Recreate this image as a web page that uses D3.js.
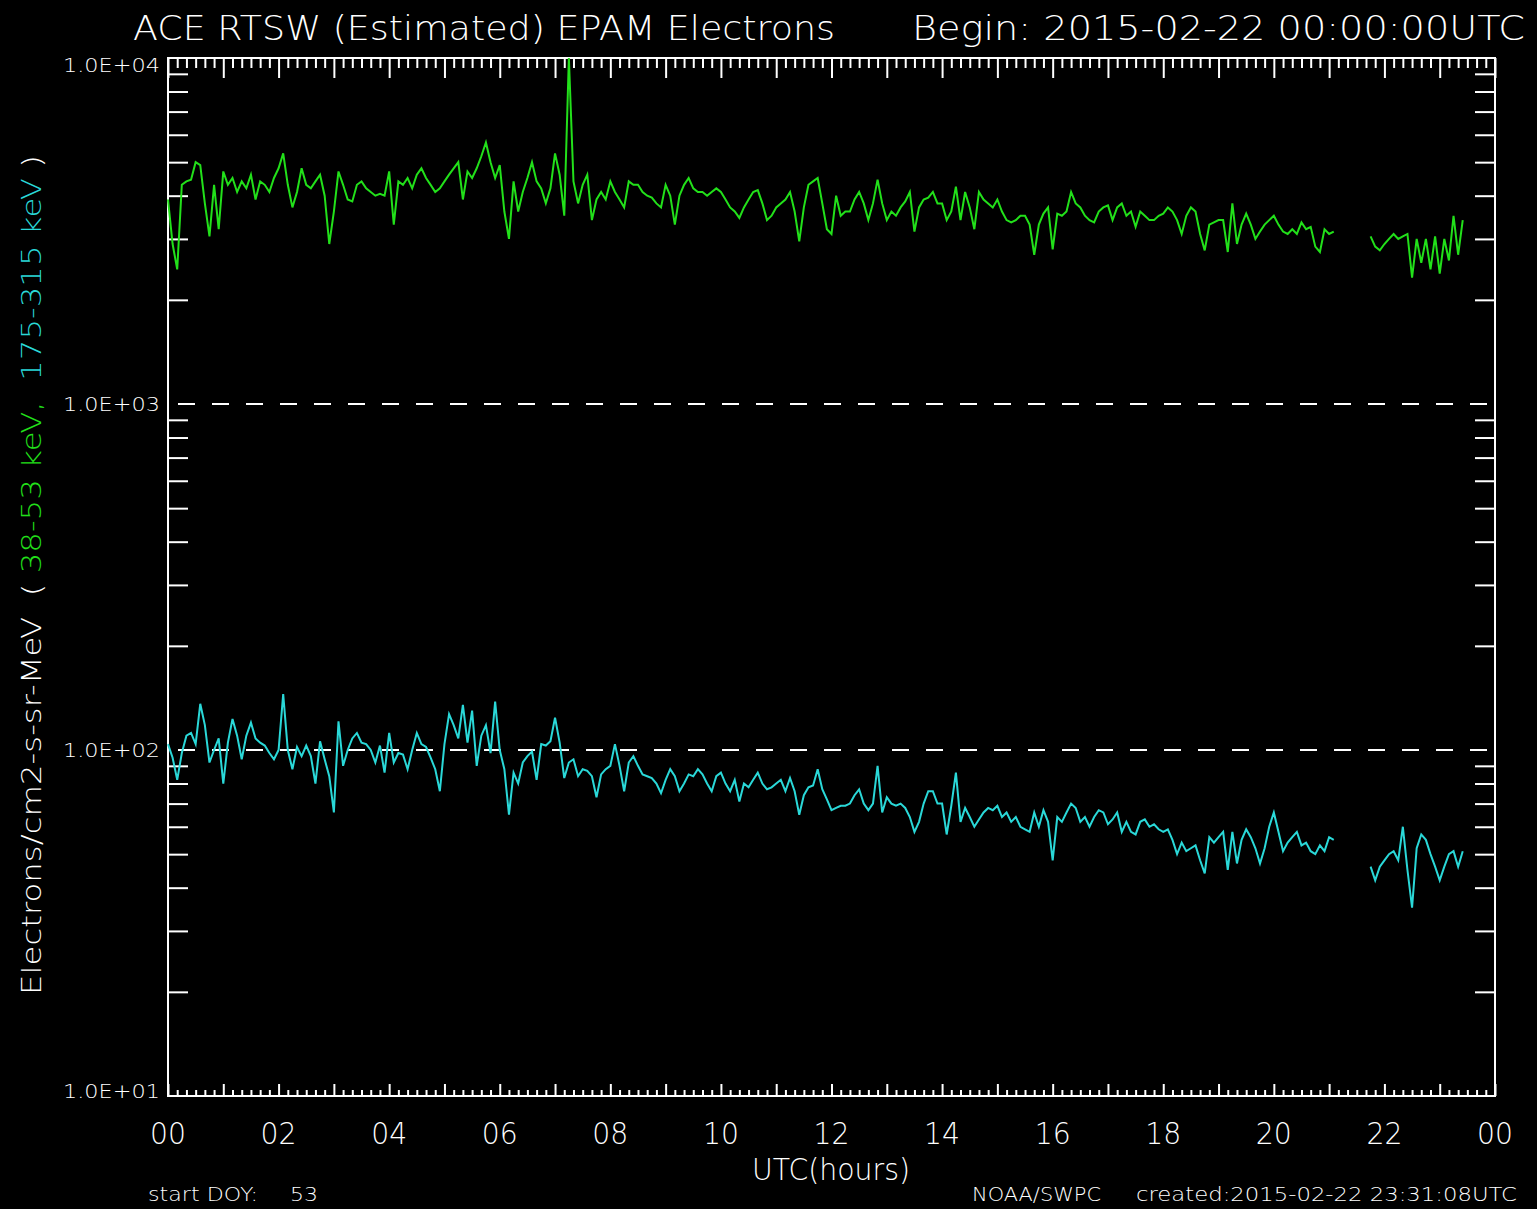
<!DOCTYPE html>
<html>
<head>
<meta charset="utf-8">
<script src="https://cdn.jsdelivr.net/npm/d3@7"></script>
<style>
  body { margin: 0; background: #000; }
  svg { display: block; }
  text { font-family: "DejaVu Sans", sans-serif; font-weight: 200; fill: #fff; white-space: pre; }
</style>
</head>
<body>
<svg id="chart" width="1537" height="1209"></svg>
<script>
// 5 minute samples from 00:00 UTC, null = no data
var stepMinutes = 5;

var green = [
  3900,2900,2450,4300,4400,4450,5000,4900,3800,3050,4300,3200,4700,4300,4500,4100,4400,4200,4600,3900,4400,4300,4100,4500,
  4800,5300,4300,3700,4100,4800,4300,4200,4400,4600,4000,2900,3600,4700,4300,3900,3850,4300,4400,4200,4100,4000,4050,4000,
  4700,3300,4400,4300,4500,4200,4600,4800,4500,4300,4100,4200,4400,4600,4800,5000,3900,4700,4500,4800,5200,5700,5000,4500,
  4900,3600,3000,4400,3600,4100,4500,5000,4400,4200,3800,4200,5300,4600,3500,10000,4400,3800,4300,4600,3400,3900,4100,3900,
  4400,4100,3900,3700,4400,4300,4300,4100,4000,3950,3800,3700,4300,4000,3300,4000,4300,4500,4200,4100,4100,4000,4100,4200,
  4100,3900,3700,3600,3450,3700,3900,4100,4150,3800,3400,3500,3700,3800,3900,4100,3600,2950,3700,4300,4400,4500,3800,3200,
  3100,4000,3500,3600,3600,3900,4100,3800,3400,3800,4450,3800,3400,3600,3500,3700,3850,4100,3150,3700,3900,3950,4100,3800,
  3800,3400,3600,4250,3400,4100,3700,3200,4100,3900,3800,3700,3900,3600,3400,3350,3400,3500,3500,3300,2700,3300,3550,3700,
  2800,3550,3500,3600,4100,3800,3700,3500,3400,3350,3600,3700,3750,3400,3700,3800,3500,3600,3250,3600,3500,3400,3400,3500,3550,3700,
  3600,3400,3100,3500,3700,3600,3100,2780,3300,3350,3400,3400,2750,3800,2900,3300,3550,3300,3000,3150,3300,3400,3500,3300,3150,3100,3200,3100,3350,3200,3250,2850,2750,3200,3100,3150,
  null,null,null,null,null,null,null,
  3050,2850,2780,2900,3000,3100,3000,3050,3100,2320,3000,2560,3000,2450,3050,2380,3000,2600,3500,2700,3400
];

var cyan = [
  104,95,82,98,110,112,104,136,118,92,100,108,80,105,123,110,94,110,120,108,105,103,98,94,
  100,145,100,88,102,96,103,96,80,106,94,84,66,121,90,100,108,112,105,104,100,92,103,86,
  112,92,98,97,88,100,112,104,102,95,88,76,104,127,118,108,135,105,130,90,110,118,98,138,
  100,88,65,86,80,92,96,99,82,104,103,106,124,105,83,92,94,84,88,87,84,73,85,88,
  90,104,90,76,92,96,90,85,84,83,80,75,82,88,84,76,80,85,84,88,85,80,76,84,
  86,80,76,82,71,80,78,82,86,80,77,78,80,82,76,83,76,65,74,78,79,88,77,72,
  67,68,69,69,70,74,77,70,67,70,90,66,73,70,69,70,68,64,58,62,70,76,76,70,
  70,57,69,86,62,68,64,60,63,66,68,67,69,64,66,62,64,60,59,58,66,60,67,62,
  48,64,62,66,70,68,62,64,60,64,67,66,61,63,66,58,62,58,57,62,63,60,61,59,58,59,
  55,50,54,51,52,53,48,44,56,54,56,58,45,58,47,55,59,56,52,47,52,60,66,58,51,54,56,58,53,54,51,50,53,51,56,55,
  null,null,null,null,null,null,null,
  46,42,46,48,50,51,48,60,45,35,52,57,55,50,46,42,46,50,51,46,51
];

var decades = [10, 100, 1000, 10000];
var decadeLabels = ["1.0E+01", "1.0E+02", "1.0E+03", "1.0E+04"];
var gridDecades = [100, 1000];
var hourLabels = ["00","02","04","06","08","10","12","14","16","18","20","22","00"];

var svg = d3.select("#chart");
var W = 1537, H = 1209;
var pLeft = 168, pRight = 1495, pTop = 58, pBottom = 1096;

svg.append("rect").attr("width", W).attr("height", H).attr("fill", "#000");

var x = d3.scaleLinear().domain([0, 24]).range([pLeft, pRight]);
var y = d3.scaleLog().domain([10, 10000]).range([pBottom, pTop]);

// minor log ticks 2..9 per decade
var minorY = [];
decades.slice(0, 3).forEach(function (d) {
    for (var k = 2; k <= 9; k++) minorY.push(d * k);
});
var hourTicks = d3.range(0, 25, 1);
var minorX = d3.range(0, 24 * 6 + 1).map(function (m) { return m / 6; })
    .filter(function (h) { return Math.abs(h - Math.round(h)) > 1e-6; });

function styleAxis(g) {
    g.select(".domain").remove();
    g.selectAll("line").attr("stroke", "#fff").attr("stroke-width", 2);
}

// left / right minor ticks
svg.append("g").attr("transform", "translate(" + pLeft + ",0)")
    .call(d3.axisLeft(y).tickValues(minorY).tickSize(-20).tickFormat(""))
    .call(styleAxis);
svg.append("g").attr("transform", "translate(" + pRight + ",0)")
    .call(d3.axisRight(y).tickValues(minorY).tickSize(-20).tickFormat(""))
    .call(styleAxis);

// top ticks
svg.append("g").attr("transform", "translate(0," + pTop + ")")
    .call(d3.axisTop(x).tickValues(minorX).tickSize(-10).tickFormat(""))
    .call(styleAxis);
svg.append("g").attr("transform", "translate(0," + pTop + ")")
    .call(d3.axisTop(x).tickValues(hourTicks).tickSize(-20).tickFormat(""))
    .call(styleAxis);
// bottom ticks
svg.append("g").attr("transform", "translate(0," + pBottom + ")")
    .call(d3.axisBottom(x).tickValues(minorX).tickSize(-6).tickFormat(""))
    .call(styleAxis);
svg.append("g").attr("transform", "translate(0," + pBottom + ")")
    .call(d3.axisBottom(x).tickValues(hourTicks).tickSize(-12).tickFormat(""))
    .call(styleAxis);

// dashed major grid
svg.selectAll(".grid").data(gridDecades).enter().append("line")
    .attr("x1", pLeft).attr("x2", pRight)
    .attr("y1", function (d) { return y(d); }).attr("y2", function (d) { return y(d); })
    .attr("stroke", "#fff").attr("stroke-width", 2).attr("stroke-dasharray", "17,17")
    .attr("stroke-dashoffset", -10);

// frame
svg.append("rect").attr("x", pLeft).attr("y", pTop)
    .attr("width", pRight - pLeft).attr("height", pBottom - pTop)
    .attr("fill", "none").attr("stroke", "#fff").attr("stroke-width", 2);

// data lines
var line = d3.line()
    .defined(function (d) { return d != null; })
    .x(function (d, i) { return x(i * stepMinutes / 60); })
    .y(function (d) { return y(d); });

svg.append("path").datum(green).attr("d", line)
    .attr("fill", "none").attr("stroke", "#22e01a").attr("stroke-width", 2);
svg.append("path").datum(cyan).attr("d", line)
    .attr("fill", "none").attr("stroke", "#2ad8d8").attr("stroke-width", 2);

// y labels
svg.selectAll(".ylab").data(decades).enter().append("text")
    .attr("x", 160)
    .attr("y", function (d) { return Math.min(Math.max(y(d), 65), 1091); })
    .attr("dy", "0.36em")
    .attr("text-anchor", "end")
    .attr("font-size", 20)
    .attr("textLength", 97).attr("lengthAdjust", "spacingAndGlyphs")
    .text(function (d, i) { return decadeLabels[i]; });

// x labels
svg.selectAll(".xlab").data(hourLabels).enter().append("text")
    .attr("x", function (d, i) { return x(i * 2); })
    .attr("y", 1144)
    .attr("text-anchor", "middle")
    .attr("font-size", 30)
    .attr("textLength", 36).attr("lengthAdjust", "spacingAndGlyphs")
    .text(function (d) { return d; });

svg.append("text").attr("x", 831).attr("y", 1180).attr("text-anchor", "middle")
    .attr("font-size", 30).attr("textLength", 158).attr("lengthAdjust", "spacingAndGlyphs")
    .text("UTC(hours)");

// titles
svg.append("text").attr("x", 133).attr("y", 40).attr("font-size", 34)
    .attr("textLength", 702).attr("lengthAdjust", "spacingAndGlyphs")
    .text("ACE RTSW (Estimated) EPAM Electrons");
svg.append("text").attr("x", 912).attr("y", 40).attr("font-size", 34)
    .attr("textLength", 613).attr("lengthAdjust", "spacingAndGlyphs")
    .text("Begin: 2015-02-22 00:00:00UTC");

// y axis title
var yt = svg.append("text").attr("transform", "translate(41,575) rotate(-90)")
    .attr("text-anchor", "middle").attr("font-size", 26)
    .attr("textLength", 840).attr("lengthAdjust", "spacingAndGlyphs");
yt.append("tspan").text("Electrons/cm2-s-sr-MeV  ( ");
yt.append("tspan").style("fill", "#22e01a").text("38-53 keV,  ");
yt.append("tspan").style("fill", "#2ad8d8").text("175-315 keV");
yt.append("tspan").text(" )");

// footer
svg.append("text").attr("x", 148).attr("y", 1201).attr("font-size", 20)
    .attr("textLength", 110).attr("lengthAdjust", "spacingAndGlyphs")
    .text("start DOY:");
svg.append("text").attr("x", 290).attr("y", 1201).attr("font-size", 20)
    .attr("textLength", 28).attr("lengthAdjust", "spacingAndGlyphs")
    .text("53");
svg.append("text").attr("x", 972).attr("y", 1201).attr("font-size", 20)
    .attr("textLength", 129).attr("lengthAdjust", "spacingAndGlyphs")
    .text("NOAA/SWPC");
svg.append("text").attr("x", 1136).attr("y", 1201).attr("font-size", 20)
    .attr("textLength", 381).attr("lengthAdjust", "spacingAndGlyphs")
    .text("created:2015-02-22 23:31:08UTC");
</script>
</body>
</html>
